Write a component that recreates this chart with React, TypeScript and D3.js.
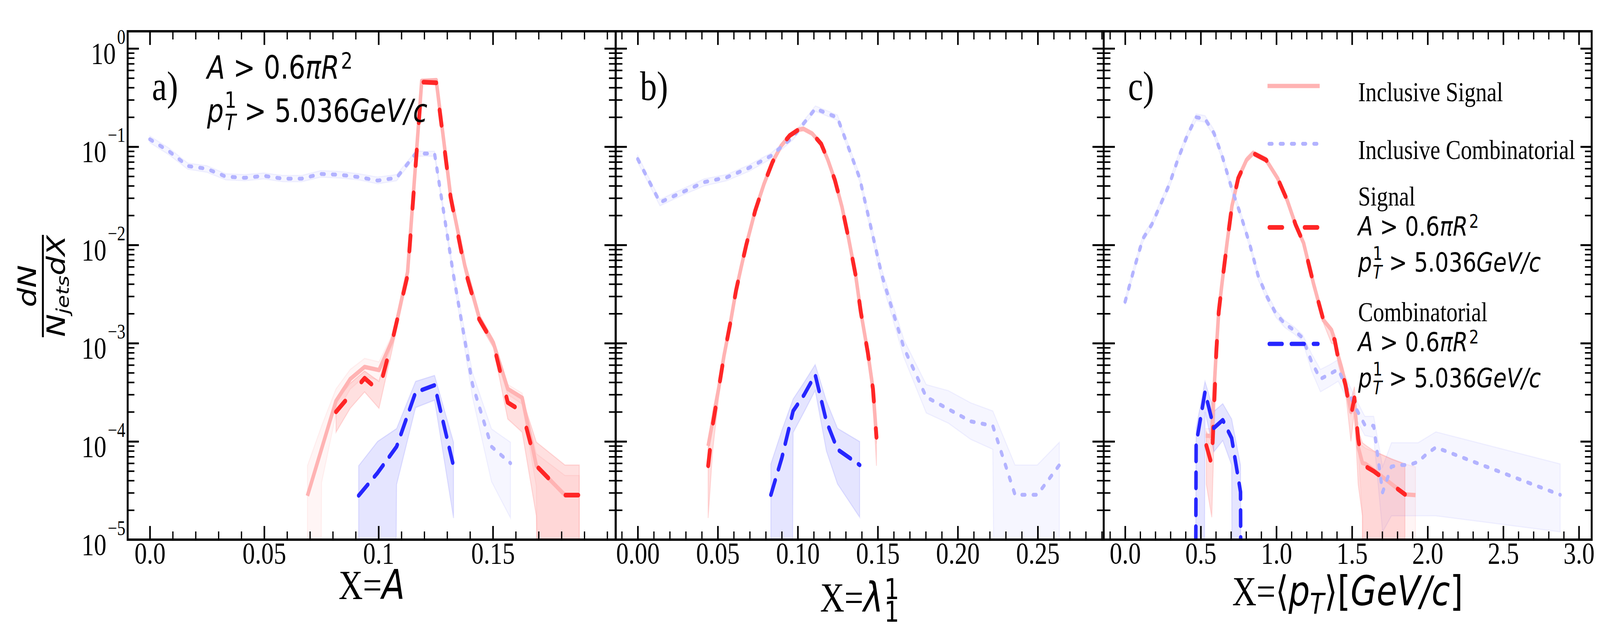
import * as d3 from "d3";
import React, { useEffect, useRef } from "react";

// rows are [x, y, lo, hi]; y = null -> band only, 0 -> empty bin
type Row = [number, number | null, number, number];

// ---- panel a) X = A ----
const aInclSignal: Row[] = [
  [0.0689, 2.79e-5, 0, 5.65e-5],
  [0.0751, null, 3.8e-5, 1.44e-4],
  [0.0814, 2.58e-4, 1.9e-4, 3.43e-4],
  [0.0876, 4.31e-4, 3.4e-4, 5.4e-4],
  [0.0939, 5.73e-4, 4.6e-4, 7.0e-4],
  [0.1002, 5.32e-4, 4.2e-4, 6.45e-4],
  [0.1064, 1.13e-3, 1.0e-3, 1.28e-3],
  [0.1127, 5.3e-3, 4.9e-3, 5.7e-3],
  [0.1189, 0.468, 0.45, 0.49],
  [0.1252, 0.476, 0.46, 0.49],
  [0.1315, 0.0319, 0.03, 0.034],
  [0.1377, 6.2e-3, 5.8e-3, 6.6e-3],
  [0.144, 1.83e-3, 1.7e-3, 1.97e-3],
  [0.1502, 1.01e-3, 9.3e-4, 1.1e-3],
  [0.1565, 3.43e-4, 3.0e-4, 3.8e-4],
  [0.1628, 2.78e-4, 2.4e-4, 3.1e-4],
  [0.169, 5.65e-5, 3.5e-5, 7.5e-5],
  [0.1815, 2.84e-5, 0, 4.5e-5],
  [0.1878, 2.84e-5, 0, 4.5e-5],
];
const aInclComb: Row[] = [
  [0, 0.119, 0.11, 0.128],
  [0.0083, 0.09, 0.083, 0.097],
  [0.0166, 0.0636, 0.059, 0.068],
  [0.0249, 0.0596, 0.055, 0.064],
  [0.0332, 0.0496, 0.046, 0.053],
  [0.0415, 0.0482, 0.045, 0.052],
  [0.0498, 0.0505, 0.047, 0.054],
  [0.0581, 0.0473, 0.044, 0.051],
  [0.0664, 0.0473, 0.044, 0.051],
  [0.0747, 0.0528, 0.049, 0.057],
  [0.083, 0.0518, 0.048, 0.056],
  [0.0913, 0.0491, 0.046, 0.053],
  [0.0996, 0.0452, 0.042, 0.049],
  [0.1079, 0.0482, 0.045, 0.052],
  [0.1162, 0.0851, 0.08, 0.09],
  [0.1245, 0.0851, 0.08, 0.09],
  [0.1328, 4.89e-3, 4.4e-3, 5.4e-3],
  [0.1411, 3.79e-4, 2.8e-4, 5.0e-4],
  [0.1494, 8.85e-5, 3.9e-5, 1.34e-4],
  [0.1577, 6.0e-5, 1.66e-5, 9.8e-5],
];
const aSignal: Row[] = [
  [0.0814, 2.0e-4, 1.24e-4, 2.58e-4],
  [0.0876, 2.96e-4, 2.17e-4, 3.9e-4],
  [0.0939, 4.4e-4, 3.19e-4, 5.2e-4],
  [0.1002, 3.28e-4, 2.17e-4, 4.08e-4],
  [0.1064, 1.16e-3, 9.5e-4, 1.35e-3],
  [0.1127, 4.89e-3, 4.5e-3, 5.3e-3],
  [0.1189, 0.455, 0.44, 0.47],
  [0.1252, 0.448, 0.43, 0.465],
  [0.1315, 0.0308, 0.029, 0.0326],
  [0.1377, 5.7e-3, 5.3e-3, 6.1e-3],
  [0.144, 1.75e-3, 1.6e-3, 1.9e-3],
  [0.1502, 9.9e-4, 9.0e-4, 1.08e-3],
  [0.1565, 2.49e-4, 1.69e-4, 3.43e-4],
  [0.1628, 2.02e-4, 1.24e-4, 2.78e-4],
  [0.169, 5.65e-5, 1.75e-5, 9.86e-5],
  [0.1815, 2.84e-5, 0, 5.75e-5],
  [0.1878, 2.84e-5, 0, 5.75e-5],
];
const aComb: Row[] = [
  [0.0913, 2.81e-5, 0, 5.65e-5],
  [0.0996, 4.79e-5, 0, 1.0e-4],
  [0.1079, 8.85e-5, 3.64e-5, 1.35e-4],
  [0.1162, 3.16e-4, 2.21e-4, 4.08e-4],
  [0.1245, 3.73e-4, 2.63e-4, 4.69e-4],
  [0.1328, 5.6e-5, 1.66e-5, 9.8e-5],
];

// ---- panel b) X = lambda_1^1 ----
const bSignal: Row[] = [
  [0.044, 5.65e-5, 1.66e-5, 1.0e-4],
  [0.0468, 1.46e-4, 8.0e-5, 2.0e-4],
  [0.0506, 3.43e-4, 2.8e-4, 4.0e-4],
  [0.0538, 7.3e-4, 6.5e-4, 8.1e-4],
  [0.0582, 1.72e-3, 1.6e-3, 1.84e-3],
  [0.0614, 3.42e-3, 3.2e-3, 3.64e-3],
  [0.0646, 5.9e-3, 5.55e-3, 6.25e-3],
  [0.0678, 9.98e-3, 9.4e-3, 0.0106],
  [0.0734, 0.0223, 0.021, 0.0236],
  [0.0788, 0.0413, 0.039, 0.0436],
  [0.0842, 0.0696, 0.066, 0.073],
  [0.0896, 0.102, 0.097, 0.107],
  [0.095, 0.13, 0.124, 0.136],
  [0.1004, 0.149, 0.142, 0.156],
  [0.1036, 0.152, 0.145, 0.159],
  [0.109, 0.136, 0.13, 0.142],
  [0.1146, 0.107, 0.102, 0.112],
  [0.1188, 0.0734, 0.07, 0.077],
  [0.1232, 0.0457, 0.0435, 0.048],
  [0.1276, 0.0245, 0.023, 0.026],
  [0.1318, 0.01156, 0.0109, 0.0122],
  [0.1362, 4.89e-3, 4.6e-3, 5.2e-3],
  [0.1394, 2.08e-3, 1.9e-3, 2.26e-3],
  [0.1438, 8.0e-4, 7.2e-4, 8.8e-4],
  [0.147, 3.43e-4, 2.6e-4, 4.3e-4],
  [0.1492, 1.1e-4, 5.65e-5, 1.6e-4],
];
const bInclSignal: Row[] = [
  [0.044, 9.0e-5, 8.0e-5, 1.0e-4],
  [0.0468, 1.6e-4, 1.5e-4, 1.7e-4],
  [0.0506, 3.5e-4, 3.35e-4, 3.65e-4],
  [0.0538, 7.3e-4, 7.0e-4, 7.6e-4],
  [0.0582, 1.72e-3, 1.65e-3, 1.79e-3],
  [0.0614, 3.42e-3, 3.3e-3, 3.55e-3],
  [0.0646, 5.9e-3, 5.7e-3, 6.1e-3],
  [0.0678, 9.98e-3, 9.6e-3, 0.0104],
  [0.0734, 0.0223, 0.0215, 0.0231],
  [0.0788, 0.0413, 0.04, 0.0427],
  [0.0842, 0.0696, 0.067, 0.072],
  [0.0896, 0.102, 0.098, 0.106],
  [0.095, 0.13, 0.125, 0.135],
  [0.1004, 0.149, 0.144, 0.154],
  [0.1036, 0.152, 0.147, 0.157],
  [0.109, 0.136, 0.131, 0.141],
  [0.1146, 0.107, 0.103, 0.111],
  [0.1188, 0.0734, 0.071, 0.076],
  [0.1232, 0.0457, 0.044, 0.0474],
  [0.1276, 0.0245, 0.0236, 0.0254],
  [0.1318, 0.01156, 0.0111, 0.012],
  [0.1362, 4.89e-3, 4.7e-3, 5.1e-3],
  [0.1394, 2.08e-3, 2.0e-3, 2.16e-3],
  [0.1438, 8.0e-4, 7.6e-4, 8.4e-4],
  [0.147, 3.43e-4, 3.2e-4, 3.7e-4],
  [0.1492, 1.1e-4, 9.5e-5, 1.25e-4],
];
const bInclComb: Row[] = [
  [0, 0.0748, 0.069, 0.081],
  [0.0139, 0.0271, 0.025, 0.029],
  [0.0277, 0.0343, 0.032, 0.037],
  [0.0416, 0.0436, 0.04, 0.047],
  [0.0555, 0.0487, 0.045, 0.052],
  [0.0694, 0.0607, 0.056, 0.065],
  [0.0832, 0.0806, 0.075, 0.086],
  [0.0971, 0.126, 0.118, 0.134],
  [0.111, 0.244, 0.23, 0.26],
  [0.1248, 0.198, 0.186, 0.21],
  [0.1387, 0.0478, 0.044, 0.052],
  [0.1526, 4.89e-3, 4.2e-3, 5.6e-3],
  [0.1664, 8.9e-4, 7.1e-4, 1.08e-3],
  [0.1803, 2.83e-4, 1.95e-4, 3.79e-4],
  [0.1942, 2.13e-4, 1.53e-4, 3.28e-4],
  [0.2081, 1.6e-4, 1.05e-4, 2.47e-4],
  [0.2219, 1.44e-4, 8.3e-5, 2.04e-4],
  [0.2358, 2.86e-5, 0, 5.75e-5],
  [0.2497, 2.86e-5, 0, 5.75e-5],
  [0.2635, 5.75e-5, 0, 9.8e-5],
];
const bComb: Row[] = [
  [0.0832, 2.86e-5, 0, 5.9e-5],
  [0.0901, 6.84e-5, 0, 1.3e-4],
  [0.0971, 2.04e-4, 1.23e-4, 2.7e-4],
  [0.104, 2.99e-4, 2.0e-4, 4.0e-4],
  [0.1109, 4.77e-4, 3.3e-4, 6.05e-4],
  [0.1179, 1.6e-4, 8.0e-5, 2.58e-4],
  [0.1248, 8.3e-5, 3.7e-5, 1.36e-4],
  [0.1387, 5.75e-5, 1.69e-5, 9.96e-5],
];

// ---- panel c) X = <pT> ----
const cSignal: Row[] = [
  [0.537, 9.1e-5, 3.64e-5, 1.25e-4],
  [0.573, 5.75e-5, 1.69e-5, 1.0e-4],
  [0.603, 8.2e-4, 6.5e-4, 1.0e-3],
  [0.619, 2.08e-3, 1.9e-3, 2.3e-3],
  [0.641, 4.07e-3, 3.8e-3, 4.4e-3],
  [0.674, 0.01045, 9.8e-3, 0.0111],
  [0.706, 0.0247, 0.0232, 0.0262],
  [0.748, 0.0478, 0.045, 0.0506],
  [0.803, 0.0734, 0.069, 0.078],
  [0.846, 0.0859, 0.081, 0.091],
  [0.932, 0.0734, 0.069, 0.078],
  [1.008, 0.0478, 0.045, 0.0506],
  [1.072, 0.0284, 0.0267, 0.0301],
  [1.127, 0.0161, 0.0151, 0.0171],
  [1.18, 0.01045, 9.8e-3, 0.0111],
  [1.245, 4.07e-3, 3.8e-3, 4.35e-3],
  [1.311, 1.72e-3, 1.6e-3, 1.85e-3],
  [1.364, 1.13e-3, 1.0e-3, 1.3e-3],
  [1.385, 1.09e-3, 9.7e-4, 1.22e-3],
  [1.408, 7.1e-4, 6.2e-4, 8.0e-4],
  [1.457, 3.76e-4, 3.2e-4, 4.4e-4],
  [1.493, 1.82e-4, 1.0e-4, 2.6e-4],
  [1.516, 2.78e-4, 2.0e-4, 3.6e-4],
  [1.541, 1.06e-4, 3.64e-5, 1.3e-4],
  [1.569, 5.9e-5, 1.75e-5, 9.7e-5],
  [1.596, 5.5e-5, 0, 9.0e-5],
  [1.645, 4.96e-5, 0, 8.0e-5],
  [1.763, 3.64e-5, 0, 6.6e-5],
  [1.85, 2.89e-5, 0, 5.9e-5],
];
const cInclSignal: Row[] = [
  [0.533, 1.14e-4, 9.5e-5, 1.35e-4],
  [0.571, 1.14e-4, 9.5e-5, 1.35e-4],
  [0.603, 8.5e-4, 7.7e-4, 9.3e-4],
  [0.619, 2.1e-3, 2.0e-3, 2.2e-3],
  [0.641, 4.1e-3, 3.9e-3, 4.3e-3],
  [0.674, 0.0105, 0.01, 0.011],
  [0.706, 0.0247, 0.0237, 0.0257],
  [0.748, 0.0478, 0.046, 0.0496],
  [0.803, 0.0734, 0.0705, 0.0763],
  [0.846, 0.0859, 0.0825, 0.0893],
  [0.932, 0.0734, 0.0705, 0.0763],
  [1.008, 0.0478, 0.046, 0.0496],
  [1.072, 0.0284, 0.0273, 0.0295],
  [1.127, 0.0161, 0.0155, 0.0167],
  [1.18, 0.01045, 0.01, 0.0109],
  [1.245, 4.07e-3, 3.9e-3, 4.25e-3],
  [1.311, 1.72e-3, 1.65e-3, 1.8e-3],
  [1.364, 1.37e-3, 1.3e-3, 1.45e-3],
  [1.385, 1.09e-3, 1.03e-3, 1.15e-3],
  [1.408, 7.5e-4, 7.1e-4, 7.9e-4],
  [1.429, 5.78e-4, 5.45e-4, 6.1e-4],
  [1.457, 3.94e-4, 3.7e-4, 4.2e-4],
  [1.493, 2.0e-4, 1.85e-4, 2.15e-4],
  [1.516, 2.6e-4, 2.45e-4, 2.75e-4],
  [1.541, 8.77e-5, 8.0e-5, 9.5e-5],
  [1.569, 6.03e-5, 1.75e-5, 9.0e-5],
  [1.59, 5.9e-5, 0, 8.5e-5],
  [1.85, 2.89e-5, 0, 5.9e-5],
  [1.92, 2.84e-5, 0, 5.5e-5],
];
const cInclComb: Row[] = [
  [0, 2.64e-3, 2.45e-3, 2.85e-3],
  [0.0587, 5.66e-3, 5.2e-3, 6.1e-3],
  [0.1174, 0.01156, 0.0107, 0.0125],
  [0.1761, 0.0161, 0.0149, 0.0174],
  [0.2348, 0.0259, 0.024, 0.028],
  [0.2935, 0.0417, 0.0385, 0.045],
  [0.3522, 0.0769, 0.071, 0.083],
  [0.4109, 0.13, 0.12, 0.14],
  [0.4696, 0.1995, 0.185, 0.215],
  [0.5283, 0.192, 0.178, 0.207],
  [0.587, 0.138, 0.128, 0.149],
  [0.6457, 0.0769, 0.071, 0.083],
  [0.7044, 0.0377, 0.035, 0.0407],
  [0.7631, 0.0204, 0.0189, 0.022],
  [0.8218, 0.01045, 9.7e-3, 0.0113],
  [0.8805, 4.8e-3, 4.4e-3, 5.2e-3],
  [0.9392, 2.95e-3, 2.7e-3, 3.2e-3],
  [0.9979, 1.99e-3, 1.83e-3, 2.15e-3],
  [1.0566, 1.57e-3, 1.44e-3, 1.7e-3],
  [1.1153, 1.36e-3, 1.25e-3, 1.47e-3],
  [1.174, 1.13e-3, 1.04e-3, 1.22e-3],
  [1.2327, 6.46e-4, 5.2e-4, 7.8e-4],
  [1.2914, 4.32e-4, 3.2e-4, 5.4e-4],
  [1.3501, 4.82e-4, 3.6e-4, 6.0e-4],
  [1.4088, 5.42e-4, 4.1e-4, 6.8e-4],
  [1.4675, 3.43e-4, 2.7e-4, 4.2e-4],
  [1.5262, 2.17e-4, 1.7e-4, 2.7e-4],
  [1.5849, 1.47e-4, 1.15e-4, 1.8e-4],
  [1.6436, 1.44e-4, 1.1e-4, 1.8e-4],
  [1.7023, 3.03e-5, 1.2e-5, 5.5e-5],
  [1.761, 5.55e-5, 1.75e-5, 9.7e-5],
  [1.8197, 5.75e-5, 1.75e-5, 9.7e-5],
  [1.8784, 5.75e-5, 1.75e-5, 9.7e-5],
  [1.9371, 6.2e-5, 1.75e-5, 9.7e-5],
  [1.9958, 7.5e-5, 1.75e-5, 1.1e-4],
  [2.0545, 8.7e-5, 1.75e-5, 1.25e-4],
  [2.8763, 2.86e-5, 1.2e-5, 5.9e-5],
];
const cComb: Row[] = [
  [0.4109, 0, 0, 0],
  [0.4696, 9.35e-5, 0, 1.37e-4],
  [0.5283, 3.19e-4, 2.0e-4, 4.08e-4],
  [0.587, 1.37e-4, 7.85e-5, 2.02e-4],
  [0.6457, 1.65e-4, 1.02e-4, 2.42e-4],
  [0.7044, 1.08e-4, 5.75e-5, 1.69e-4],
  [0.7631, 3.06e-5, 0, 5.75e-5],
  [0.8218, 0, 0, 0],
];

const aTicks = [0, 0.05, 0.1, 0.15];
const aTickLabels = ["0.0", "0.05", "0.1", "0.15"];
const bTicks = [0, 0.05, 0.1, 0.15, 0.2, 0.25];
const bTickLabels = ["0.00", "0.05", "0.10", "0.15", "0.20", "0.25"];
const cTicks = [0, 0.5, 1, 1.5, 2, 2.5, 3];
const cTickLabels = ["0.0", "0.5", "1.0", "1.5", "2.0", "2.5", "3.0"];
const yDecades = [-5, -4, -3, -2, -1, 0];
const yExpLabels = ["\u22125", "\u22124", "\u22123", "\u22122", "\u22121", "0"];
const legendLabels = ["Inclusive Signal", "Inclusive Combinatorial", "Signal", "Combinatorial"];

// drawing is done in the reference's 5000 x 1625 frame and the svg is fitted to the window
const W = 5000;
const H = 1625;
const SERIF = "'Liberation Serif', 'Times New Roman', serif";
const SANS = "'DejaVu Sans', sans-serif";
const TOP = 80;
const BOTTOM = 1381;
const MAJOR = 35;
const MINOR = 21;

// series order: inclusive signal, inclusive comb., signal, comb.
const STYLES = [
  { color: "rgb(255,179,179)", width: 11, dash: null, cap: "butt", band: "rgba(255,0,0,0.04)", edge: "rgba(255,0,0,0.05)" },
  { color: "rgb(179,179,255)", width: 10, dash: "9 26", cap: "round", band: "rgba(0,0,255,0.035)", edge: "rgba(0,0,255,0.05)" },
  { color: "rgb(255,38,38)", width: 12, dash: "40 70", cap: "round", band: "rgba(255,0,0,0.12)", edge: "rgba(255,0,0,0.12)" },
  { color: "rgb(38,38,255)", width: 11, dash: "40 29", cap: "round", band: "rgba(0,0,255,0.1)", edge: "rgba(0,0,255,0.1)" },
];
const BAND_ORDER = [1, 0, 3, 2];
const LINE_ORDER = [0, 1, 2, 3];

const PANELS = [
  { label: "a)", left: 399, right: 1924, domain: [-0.0097, 0.2037], ticks: aTicks, tickLabels: aTickLabels, minorStep: 0.01, series: [aInclSignal, aInclComb, aSignal, aComb] },
  { label: "b)", left: 1924, right: 3449, domain: [-0.0138, 0.2912], ticks: bTicks, tickLabels: bTickLabels, minorStep: 0.01, series: [bInclSignal, bInclComb, bSignal, bComb] },
  { label: "c)", left: 3449, right: 4974, domain: [-0.1416, 3.0846], ticks: cTicks, tickLabels: cTickLabels, minorStep: 0.1, series: [cInclSignal, cInclComb, cSignal, cComb] },
];

const pos = (v: number) => Math.max(v, 1e-30);

// little mathtext-like writer: shift is baseline offset in em (up), scale is size factor
type Piece = { t: string; it?: boolean; shift?: number; scale?: number; dx?: number; font?: string };
function mathText(g: any, x: number, y: number, size: number, pieces: Piece[], anchor = "start") {
  const text = g.append("text").attr("x", x).attr("y", y).attr("font-size", size)
    .attr("font-family", SANS).attr("text-anchor", anchor).attr("fill", "#000");
  let cur = 0;
  pieces.forEach((p) => {
    const shift = p.shift ?? 0;
    const ts = text.append("tspan").text(p.t)
      .attr("dy", (cur - shift) * size)
      .attr("font-size", (p.scale ?? 1) * size)
      .attr("font-style", p.it ? "italic" : "normal");
    if (p.dx) ts.attr("dx", p.dx * size);
    if (p.font) ts.attr("font-family", p.font);
    cur = shift;
  });
  return text;
}

const areaCut: Piece[] = [{ t: "A", it: true }, { t: " > 0.6" }, { t: "\u03c0R", it: true }, { t: "2", shift: 0.3, scale: 0.7, dx: 0.06 }];
const ptCut: Piece[] = [
  { t: "p", it: true },
  { t: "1", shift: 0.44, scale: 0.7, dx: 0.04 },
  { t: "T", it: true, shift: -0.26, scale: 0.7, dx: -0.445 },
  { t: " > 5.036", shift: 0 },
  { t: "GeV/c", it: true },
];

function draw(svg: any) {
  const y = d3.scaleLog().domain([1e-5, Math.pow(10, 0.175)]).range([BOTTOM, TOP]);
  const defs = svg.append("defs");
  const yMinor = yDecades.slice(0, -1).flatMap((k) => d3.range(2, 10).map((m) => m * Math.pow(10, k)));
  const yMajor = yDecades.map((k) => Math.pow(10, k));

  PANELS.forEach((p, pi) => {
    const x = d3.scaleLinear().domain(p.domain).range([p.left, p.right]);
    const clipId = "clip-" + pi;
    defs.append("clipPath").attr("id", clipId).append("rect")
      .attr("x", p.left).attr("y", TOP).attr("width", p.right - p.left).attr("height", BOTTOM - TOP);

    const plot = svg.append("g").attr("clip-path", `url(#${clipId})`);
    const area = d3.area<Row>().x((d) => x(d[0])).y0((d) => y(pos(d[2]))).y1((d) => y(pos(d[3])));
    const line = d3.line<Row>().x((d) => x(d[0])).y((d) => y(pos(d[1] as number)));

    BAND_ORDER.forEach((i) => {
      plot.append("path").attr("d", area(p.series[i]))
        .attr("fill", STYLES[i].band).attr("stroke", STYLES[i].edge).attr("stroke-width", 3);
    });
    LINE_ORDER.forEach((i) => {
      const s = STYLES[i];
      plot.append("path").attr("d", line(p.series[i].filter((d) => d[1] !== null)))
        .attr("fill", "none").attr("stroke", s.color).attr("stroke-width", s.width)
        .attr("stroke-dasharray", s.dash).attr("stroke-linecap", s.cap).attr("stroke-linejoin", "round");
    });

    // ticks, all pointing inward on the four sides
    const step = p.minorStep;
    const xMinor = d3.range(Math.ceil(p.domain[0] / step), Math.floor(p.domain[1] / step) + 1)
      .map((i) => +(i * step).toFixed(4))
      .filter((v) => !p.ticks.some((t) => Math.abs(t - v) < step / 10));

    const axes = svg.append("g");
    const put = (gen: any, tx: number, ty: number, w: number, labels: boolean) => {
      const g = axes.append("g").attr("transform", `translate(${tx},${ty})`).call(gen);
      g.select(".domain").remove();
      g.selectAll("line").attr("stroke-width", w);
      if (labels) g.selectAll("text").attr("font-size", 78).attr("font-family", SERIF);
      else g.selectAll("text").remove();
    };
    put(d3.axisBottom(x).tickValues(p.ticks).tickFormat((_, i) => p.tickLabels[i]).tickSizeInner(-MAJOR).tickSizeOuter(0).tickPadding(6), 0, BOTTOM, 5, true);
    put(d3.axisBottom(x).tickValues(xMinor).tickSizeInner(-MINOR).tickSizeOuter(0), 0, BOTTOM, 4, false);
    put(d3.axisTop(x).tickValues(p.ticks).tickSizeInner(-MAJOR).tickSizeOuter(0), 0, TOP, 5, false);
    put(d3.axisTop(x).tickValues(xMinor).tickSizeInner(-MINOR).tickSizeOuter(0), 0, TOP, 4, false);
    put(d3.axisLeft(y).tickValues(yMajor).tickSizeInner(-MAJOR).tickSizeOuter(0), p.left, 0, 5, false);
    put(d3.axisLeft(y).tickValues(yMinor).tickSizeInner(-MINOR).tickSizeOuter(0), p.left, 0, 4, false);
    put(d3.axisRight(y).tickValues(yMajor).tickSizeInner(-MAJOR).tickSizeOuter(0), p.right, 0, 5, false);
    put(d3.axisRight(y).tickValues(yMinor).tickSizeInner(-MINOR).tickSizeOuter(0), p.right, 0, 4, false);

    axes.append("rect").attr("x", p.left).attr("y", TOP).attr("width", p.right - p.left).attr("height", BOTTOM - TOP)
      .attr("fill", "none").attr("stroke", "#000").attr("stroke-width", 6);

    axes.append("text").attr("x", p.left + 76).attr("y", 256).attr("font-family", SERIF)
      .attr("font-size", 105).text(p.label);
  });

  // y tick labels on the left panel
  const yl = svg.append("g").attr("font-family", SERIF);
  yDecades.forEach((k, i) => {
    const t = yl.append("text").attr("x", 392).attr("y", y(Math.pow(10, k)) + 39)
      .attr("text-anchor", "end").attr("font-size", 78).text("10");
    t.append("tspan").attr("dy", -51).attr("dx", 4).attr("font-size", 52).text(yExpLabels[i]);
  });

  // y axis label dN / (N_jets dX)
  const ylab = svg.append("g").attr("transform", "translate(133,732) rotate(-90)");
  mathText(ylab, 0, -21, 78, [{ t: "dN", it: true }], "middle");
  ylab.append("rect").attr("x", -131).attr("y", -2).attr("width", 262).attr("height", 6).attr("fill", "#000");
  mathText(ylab, 0, 70, 78, [{ t: "N", it: true }, { t: "jets", it: true, shift: -0.15, scale: 0.7 }, { t: "dX", it: true, shift: 0 }], "middle");

  // x axis labels
  const mid = (p: any) => (p.left + p.right) / 2;
  mathText(svg, mid(PANELS[0]), 1533, 105, [{ t: "X=", font: SERIF }, { t: "A", it: true }], "middle");
  mathText(svg, mid(PANELS[1]), 1565, 105, [
    { t: "X=", font: SERIF }, { t: "\u03bb", it: true },
    { t: "1", shift: 0.3, scale: 0.7, dx: 0.03 },
    { t: "1", shift: -0.25, scale: 0.7, dx: -0.445 },
  ], "middle");
  mathText(svg, mid(PANELS[2]), 1549, 105, [
    { t: "X=", font: SERIF }, { t: "\u27e8" }, { t: "p", it: true },
    { t: "T", it: true, shift: -0.2, scale: 0.7 }, { t: "\u27e9[", shift: 0 },
    { t: "GeV/c", it: true }, { t: "]" },
  ], "middle");

  // cut annotation in panel a
  mathText(svg, 647, 201, 82, areaCut);
  mathText(svg, 647, 312, 82, ptCut);

  // legend in panel c
  const lg = svg.append("g");
  const handleY = [220, 368, 582, 880];
  STYLES.forEach((s, i) => {
    const inset = s.cap === "round" ? s.width / 2 : 0;
    lg.append("line").attr("x1", 3961 + inset).attr("x2", 4124 - inset).attr("y1", handleY[i]).attr("y2", handleY[i])
      .attr("stroke", s.color).attr("stroke-width", s.width).attr("stroke-dasharray", s.dash).attr("stroke-linecap", s.cap);
  });
  const lx = 4244;
  lg.append("text").attr("x", lx).attr("y", 259).attr("font-family", SERIF).attr("font-size", 70).text(legendLabels[0]);
  lg.append("text").attr("x", lx).attr("y", 407).attr("font-family", SERIF).attr("font-size", 70).text(legendLabels[1]);
  lg.append("text").attr("x", lx).attr("y", 526).attr("font-family", SERIF).attr("font-size", 70).text(legendLabels[2]);
  mathText(lg, lx, 603, 68, areaCut);
  mathText(lg, lx, 695, 68, ptCut);
  lg.append("text").attr("x", lx).attr("y", 822).attr("font-family", SERIF).attr("font-size", 70).text(legendLabels[3]);
  mathText(lg, lx, 899, 68, areaCut);
  mathText(lg, lx, 991, 68, ptCut);
}

export default function App() {
  const ref = useRef<SVGSVGElement>(null);
  useEffect(() => {
    const svg = d3.select(ref.current);
    svg.selectAll("*").remove();
    draw(svg);
  }, []);
  return (
    <svg
      ref={ref}
      viewBox={`0 0 ${W} ${H}`}
      preserveAspectRatio="none"
      style={{ position: "absolute", left: 0, top: 0, width: "100vw", height: "100vh", background: "#fff" }}
    />
  );
}
